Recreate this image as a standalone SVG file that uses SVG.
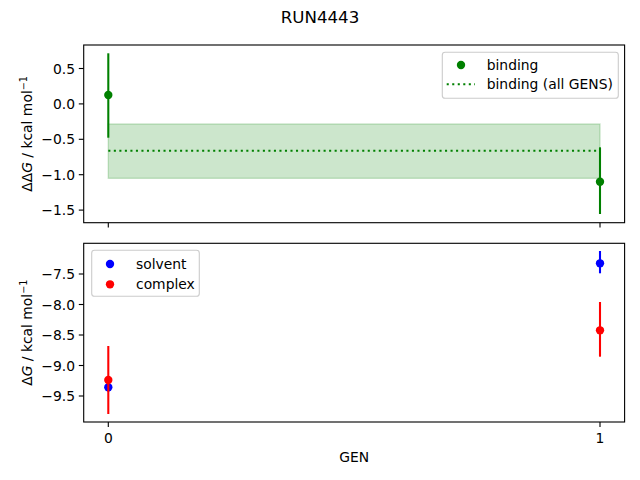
<svg xmlns="http://www.w3.org/2000/svg" width="640" height="480" viewBox="0 0 640 480">
<style>
text{font-family:"DejaVu Sans",sans-serif;font-size:13.89px;fill:#000}
.yt{text-anchor:end}
.xt{text-anchor:middle}
.spine{fill:none;stroke:#000;stroke-width:1.11}
.tick{stroke:#000;stroke-width:1.11}
.eb{stroke-width:2.08}
.leg{fill:#fff;fill-opacity:0.8;stroke:#cccccc;stroke-width:1.11}
</style>
<rect width="640" height="480" fill="#fff"/>
<text x="320" y="23" class="xt" style="font-size:16.67px">RUN4443</text>

<g id="top-axes">
<rect x="108.3" y="124" width="491.7" height="54.3" fill="#008000" fill-opacity="0.2" stroke="#008000" stroke-opacity="0.2" stroke-width="1.4"/>
<line x1="108.3" y1="150.7" x2="600" y2="150.7" stroke="#008000" stroke-width="2.08" stroke-dasharray="2.08,3.44"/>
<g id="binding-points" stroke="#008000" fill="#008000">
<line class="eb" x1="108.3" y1="53.3" x2="108.3" y2="137.7"/>
<circle cx="108.3" cy="95" r="4.17" stroke="none"/>
<line class="eb" x1="600" y1="147.3" x2="600" y2="214"/>
<circle cx="600" cy="181.7" r="4.17" stroke="none"/>
</g>
<rect class="spine" x="83.7" y="45" width="540.9" height="177.7"/>
<g class="tick">
<line x1="108.3" y1="222.7" x2="108.3" y2="227.6"/>
<line x1="600" y1="222.7" x2="600" y2="227.6"/>
<line x1="78.8" y1="68.5" x2="83.7" y2="68.5"/>
<line x1="78.8" y1="103.9" x2="83.7" y2="103.9"/>
<line x1="78.8" y1="139.3" x2="83.7" y2="139.3"/>
<line x1="78.8" y1="174.7" x2="83.7" y2="174.7"/>
<line x1="78.8" y1="210.1" x2="83.7" y2="210.1"/>
</g>
<text class="yt" x="75" y="73.5">0.5</text>
<text class="yt" x="75" y="108.9">0.0</text>
<text class="yt" x="75" y="144.3">−0.5</text>
<text class="yt" x="75" y="179.7">−1.0</text>
<text class="yt" x="75" y="215.1">−1.5</text>
<text transform="translate(32,133.9) rotate(-90)" text-anchor="middle">ΔΔ<tspan font-style="italic">G</tspan> / kcal mol<tspan baseline-shift="super" font-size="9.7px">−1</tspan></text>
<g id="top-legend">
<rect class="leg" x="442.3" y="52.3" width="176" height="46" rx="2.8"/>
<circle cx="461" cy="65" r="4.17" fill="#008000"/>
<text x="486.7" y="70">binding</text>
<line x1="446.7" y1="84.3" x2="475" y2="84.3" stroke="#008000" stroke-width="2.08" stroke-dasharray="2.08,3.44"/>
<text x="486.7" y="89.3">binding (all GENS)</text>
</g>
</g>

<g id="bottom-axes">
<g id="solvent" stroke="#0000ff" fill="#0000ff">
<line class="eb" x1="108.3" y1="383" x2="108.3" y2="391.5"/>
<circle cx="108.3" cy="387.3" r="4.17" stroke="none"/>
<line class="eb" x1="600" y1="251" x2="600" y2="273.3"/>
<circle cx="600" cy="263.3" r="4.17" stroke="none"/>
</g>
<g id="complex" stroke="#ff0000" fill="#ff0000">
<line class="eb" x1="108.3" y1="346" x2="108.3" y2="414"/>
<circle cx="108.3" cy="380" r="4.17" stroke="none"/>
<line class="eb" x1="600" y1="302" x2="600" y2="356.7"/>
<circle cx="600" cy="330.3" r="4.17" stroke="none"/>
</g>
<rect class="spine" x="83.7" y="243.3" width="540.9" height="178.7"/>
<g class="tick">
<line x1="108.3" y1="422" x2="108.3" y2="426.9"/>
<line x1="600" y1="422" x2="600" y2="426.9"/>
<line x1="78.8" y1="274" x2="83.7" y2="274"/>
<line x1="78.8" y1="304.5" x2="83.7" y2="304.5"/>
<line x1="78.8" y1="335" x2="83.7" y2="335"/>
<line x1="78.8" y1="365.5" x2="83.7" y2="365.5"/>
<line x1="78.8" y1="396" x2="83.7" y2="396"/>
</g>
<text class="yt" x="75" y="279">−7.5</text>
<text class="yt" x="75" y="309.5">−8.0</text>
<text class="yt" x="75" y="340">−8.5</text>
<text class="yt" x="75" y="370.5">−9.0</text>
<text class="yt" x="75" y="401">−9.5</text>
<text class="xt" x="108.3" y="443">0</text>
<text class="xt" x="600" y="443">1</text>
<text class="xt" x="354.2" y="462">GEN</text>
<text transform="translate(32,332.7) rotate(-90)" text-anchor="middle">Δ<tspan font-style="italic">G</tspan> / kcal mol<tspan baseline-shift="super" font-size="9.7px">−1</tspan></text>
<g id="bottom-legend">
<rect class="leg" x="91.7" y="250.3" width="107.6" height="46" rx="2.8"/>
<circle cx="110" cy="264" r="4.17" fill="#0000ff"/>
<text x="136" y="269">solvent</text>
<circle cx="110" cy="284.3" r="4.17" fill="#ff0000"/>
<text x="136" y="289.3">complex</text>
</g>
</g>
</svg>
